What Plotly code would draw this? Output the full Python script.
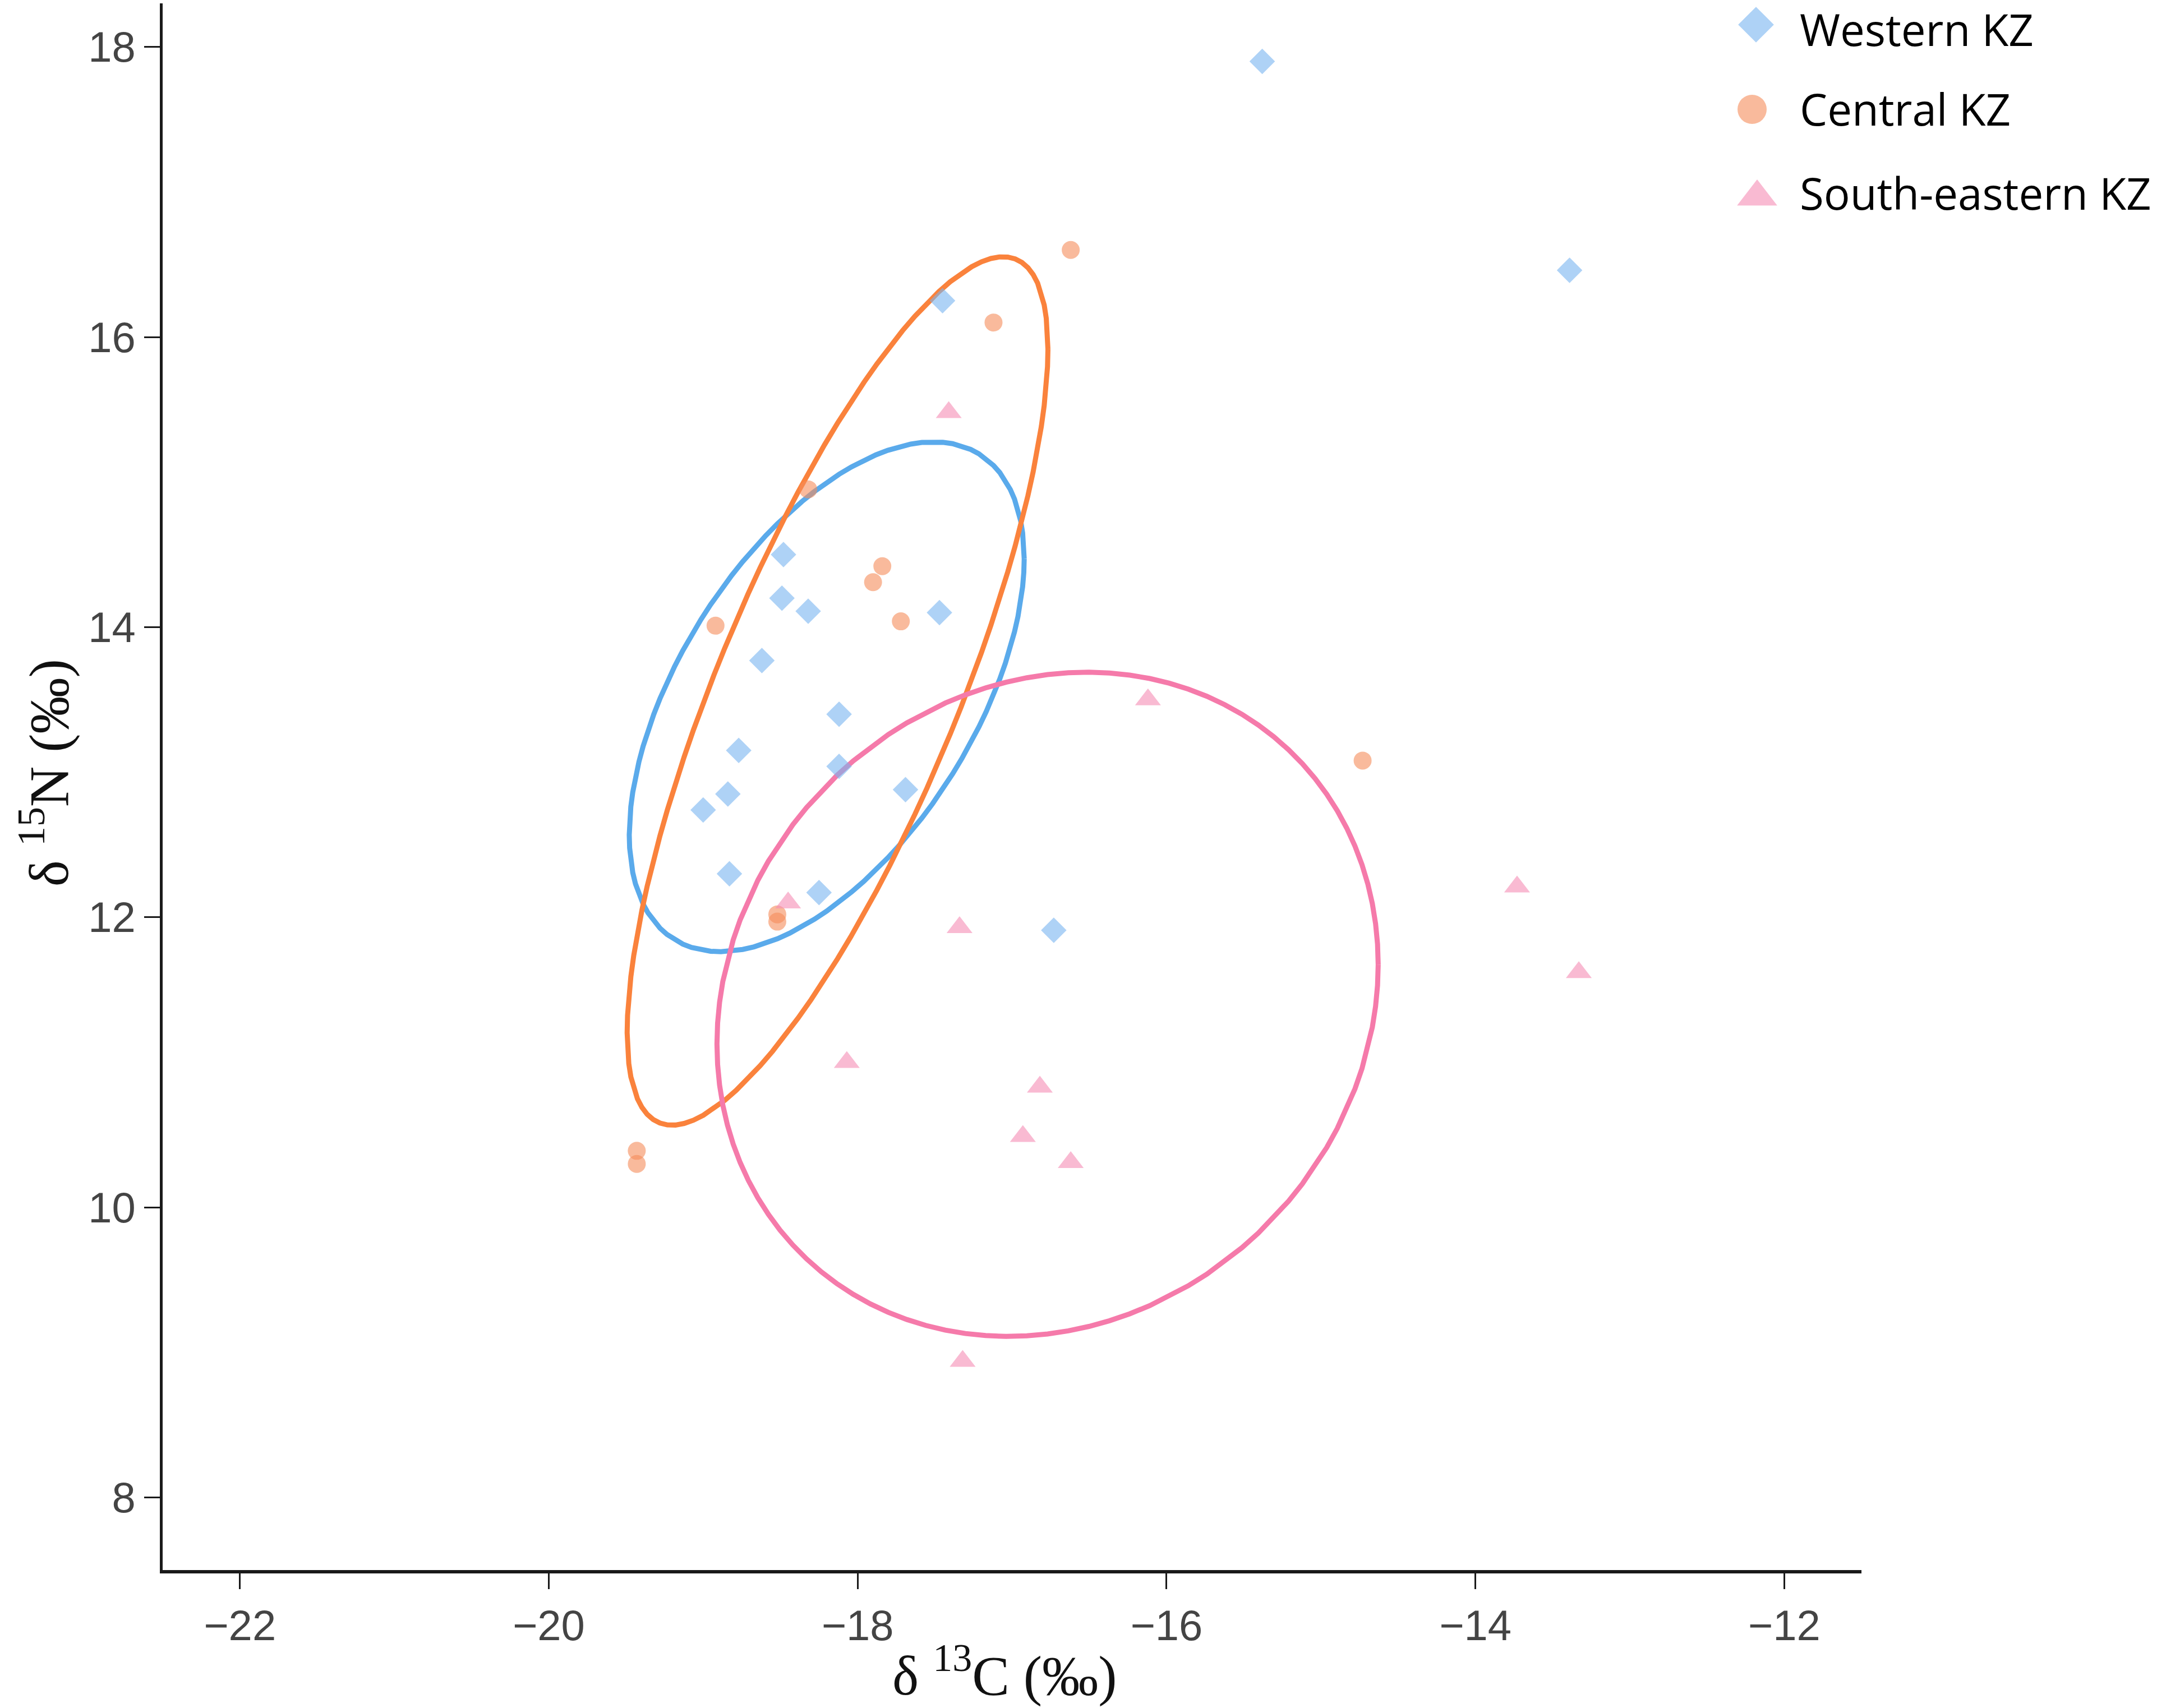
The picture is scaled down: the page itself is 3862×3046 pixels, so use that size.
import numpy as np
import plotly.graph_objects as go

# d13C / d15N values
west_c = [-15.38, -13.39, -17.45, -18.48, -18.49, -18.32, -17.47, -18.62, -18.12,
          -18.77, -18.12, -17.69, -18.84, -19.00, -18.83, -18.25, -16.73]
west_n = [17.90, 16.46, 16.25, 14.50, 14.20, 14.11, 14.10, 13.77, 13.40,
          13.15, 13.04, 12.88, 12.85, 12.74, 12.30, 12.17, 11.91]

central_c = [-16.62, -17.12, -18.32, -17.84, -17.90, -18.92, -17.72, -18.52,
             -18.52, -14.73, -19.43, -19.43]
central_n = [16.60, 16.10, 14.95, 14.42, 14.31, 14.01, 14.04, 12.02,
             11.97, 13.08, 10.39, 10.30]

se_c = [-17.41, -16.12, -13.73, -13.33, -18.45, -17.34, -18.07, -16.82,
        -16.93, -16.62, -17.32]
se_n = [15.48, 13.50, 12.21, 11.62, 12.10, 11.93, 11.00, 10.83,
        10.49, 10.31, 8.94]

# ellipses: centre and covariance-like terms
ell_cx = [-18.20, -18.13, -16.77]
ell_cy = [13.52, 13.56, 11.40]
ell_sxx = [1.635, 1.856, 4.583]
ell_sxy = [1.217, 3.21, 0.585]
ell_syy = [3.088, 8.96, 5.240]

names = ["Western KZ", "Central KZ", "South-eastern KZ"]
line_colors = ["rgb(90,170,235)", "rgb(250,130,60)", "rgb(245,122,170)"]
marker_colors = ["rgba(120,180,240,0.6)", "rgba(245,140,90,0.6)", "rgba(245,140,180,0.6)"]
symbols = ["diamond", "circle", "triangle-up"]
sizes = [35, 32, 40]

fig = go.Figure()

# ellipses first, points on top
t = np.linspace(0, 2 * np.pi, 101)
for i in range(3):
    a = np.sqrt(ell_sxx[i])
    b = ell_sxy[i] / a
    c = np.sqrt(ell_syy[i] - b * b)
    ex = ell_cx[i] + a * np.cos(t)
    ey = ell_cy[i] + b * np.cos(t) + c * np.sin(t)
    fig.add_trace(go.Scatter(x=ex, y=ey, mode="lines", showlegend=False,
                             line=dict(color=line_colors[i], width=9), hoverinfo="skip"))

for i, (xs, ys) in enumerate([(west_c, west_n), (central_c, central_n), (se_c, se_n)]):
    fig.add_trace(go.Scatter(x=xs, y=ys, mode="markers", name=names[i], showlegend=False,
                             marker=dict(symbol=symbols[i], size=sizes[i],
                                         color=marker_colors[i], line=dict(width=0))))

# hand-made legend on an overlay axis measured in pixels of the plot area
leg_x = [3131, 3124, 3133]
leg_y = [44, 195, 351]
leg_sizes = [49, 52, 62]
for i in range(3):
    fig.add_trace(go.Scatter(x=[leg_x[i]], y=[leg_y[i]], xaxis="x2", yaxis="y2",
                             mode="markers", showlegend=False, cliponaxis=False,
                             marker=dict(symbol=symbols[i], size=leg_sizes[i],
                                         color=marker_colors[i], line=dict(width=0))))
    fig.add_annotation(x=3207, y=[52, 194, 344][i], xref="x2", yref="y2", text=names[i],
                       showarrow=False, xanchor="left", yanchor="middle",
                       font=dict(family="Open Sans", size=78, color="black"))

fig.add_annotation(x=0.4955, y=-0.0881, xref="paper", yref="paper",
                   text="δ <sup>13</sup>C (‰)", showarrow=False,
                   font=dict(family="Liberation Serif", size=100, color="#111"))
fig.add_annotation(x=-0.091, y=0.509, xref="paper", yref="paper", textangle=-90,
                   text="δ <sup>15</sup>N (‰)", showarrow=False,
                   font=dict(family="Liberation Serif", size=100, color="#111"))

axis_common = dict(showgrid=False, zeroline=False, showline=True, linecolor="#1a1a1a",
                   ticks="outside", ticklen=28, tickwidth=3, tickcolor="#1a1a1a",
                   tickfont=dict(family="Liberation Sans", size=76, color="#444"))

fig.update_layout(
    width=3862, height=3046, autosize=False,
    margin=dict(l=290, r=543, t=6, b=246),
    plot_bgcolor="white", paper_bgcolor="white",
    xaxis=dict(range=[-22.5, -11.5], tickvals=[-22, -20, -18, -16, -14, -12],
               linewidth=6, **axis_common),
    yaxis=dict(range=[7.5, 18.3], tickvals=[8, 10, 12, 14, 16, 18],
               linewidth=5, **axis_common),
    xaxis2=dict(overlaying="x", range=[290, 3319], visible=False, anchor="y2"),
    yaxis2=dict(overlaying="y", range=[2800, 6], visible=False, anchor="x2"),
)

fig.write_html("out.html", config={"displayModeBar": False},
               post_script="document.body.style.margin='0';")
